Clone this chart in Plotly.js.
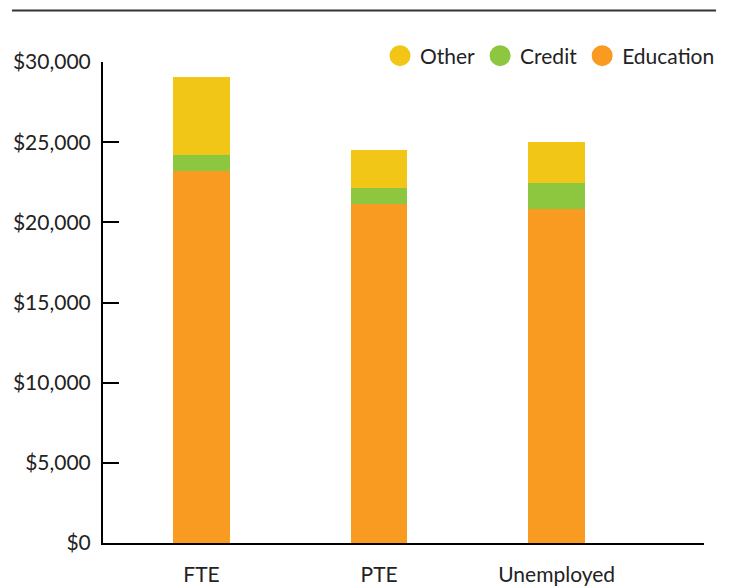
<!DOCTYPE html>
<html>
<head>
<meta charset="utf-8">
<script src="https://cdn.plot.ly/plotly-3.0.1.min.js"></script>
<style>html,body{margin:0;padding:0;background:#fff;}#chart{width:734px;height:588px;}</style>
</head>
<body>
<div id="chart"></div>
<script>
const categories = ["FTE", "PTE", "Unemployed"];
const education = [23200, 21170, 20840];
const credit = [1000, 980, 1620];
const other = [4870, 2350, 2540];
const yTicks = [0, 5000, 10000, 15000, 20000, 25000, 30000];
const yTickText = ["$0", "$5,000", "$10,000", "$15,000", "$20,000", "$25,000", "$30,000"];

const colors = {Education: "#F89B20", Credit: "#8DC63F", Other: "#F2C617"};
const font = "Lato, 'Noto Sans', sans-serif";

const bars = [
  {name: "Education", y: education},
  {name: "Credit", y: credit},
  {name: "Other", y: other}
].map(s => ({
  type: "bar", x: categories, y: s.y, name: s.name,
  marker: {color: colors[s.name], line: {width: 0}},
  width: 0.32, showlegend: false, hoverinfo: "y+name"
}));

const legendTraces = ["Other", "Credit", "Education"].map(n => ({
  type: "scatter", mode: "markers", x: [null], y: [null], name: n,
  marker: {color: colors[n], size: 16, symbol: "circle", line: {color: colors[n], width: 5}},
  showlegend: true, hoverinfo: "skip"
}));

const layout = {
  width: 734, height: 588,
  margin: {l: 103, r: 30, t: 62, b: 45, pad: 0},
  paper_bgcolor: "#fff", plot_bgcolor: "#fff",
  font: {family: font, size: 21, color: "#222"},
  barmode: "stack",
  showlegend: true,
  legend: {orientation: "h", traceorder: "normal", x: (720 - 103) / 601, xanchor: "right",
           y: (543 - 56) / 481, yanchor: "middle",
           font: {family: font, size: 21, color: "#222"}, itemsizing: "trace",
           bgcolor: "rgba(0,0,0,0)", borderwidth: 0},
  xaxis: {
    range: [-0.555, 2.83], showline: true, linecolor: "#000", linewidth: 2,
    ticks: "", showgrid: false, zeroline: false, fixedrange: true,
    tickfont: {family: font, size: 21, color: "#222"}, ticklabelstandoff: 12
  },
  yaxis: {
    range: [0, 30000], tickmode: "array", tickvals: yTicks, ticktext: yTickText,
    showline: true, linecolor: "#000", linewidth: 2,
    ticks: "inside", ticklen: 16, tickwidth: 2, tickcolor: "#000",
    showgrid: false, zeroline: false, fixedrange: true,
    tickfont: {family: font, size: 21, color: "#222"}, ticklabelstandoff: 6
  },
  shapes: [{type: "line", xref: "paper", yref: "paper",
            x0: (12 - 103) / 601, x1: (716 - 103) / 601, y0: (543 - 10.5) / 481, y1: (543 - 10.5) / 481,
            line: {color: "#333", width: 2}}]
};

Plotly.newPlot("chart", bars.concat(legendTraces), layout, {displayModeBar: false, staticPlot: true});
</script>
</body>
</html>
